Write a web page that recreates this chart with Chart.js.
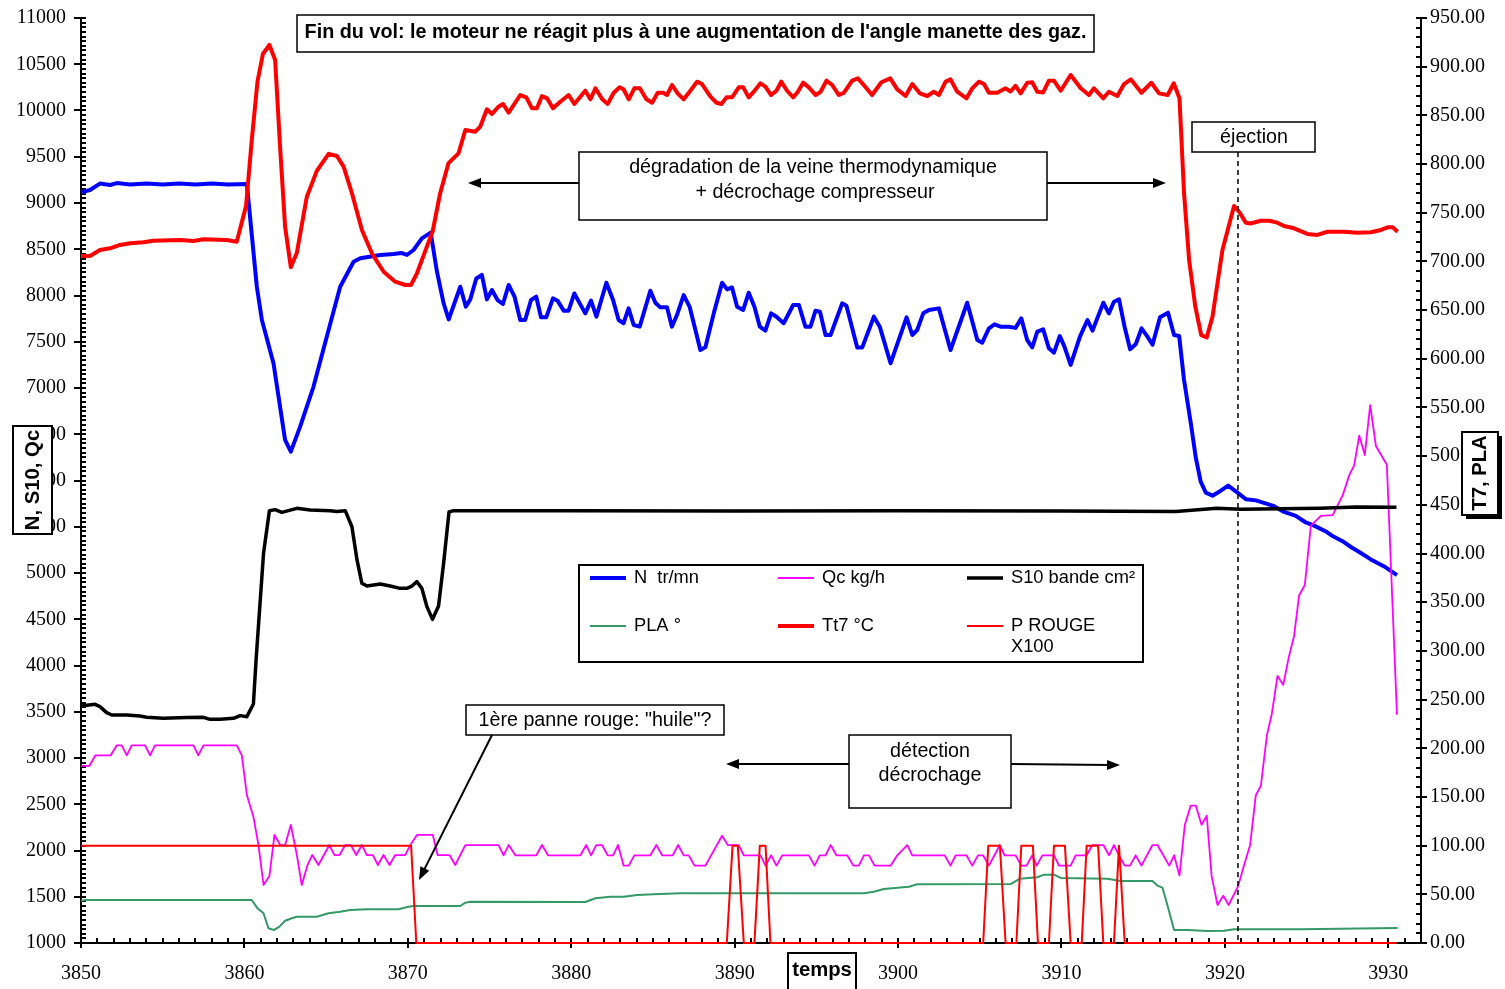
<!DOCTYPE html>
<html>
<head>
<meta charset="utf-8">
<script src="https://cdn.jsdelivr.net/npm/chart.js@4.4.1/dist/chart.umd.min.js"></script>
<style>
  html, body { margin: 0; padding: 0; background: #fff; }
  #wrap { width: 1505px; height: 989px; position: relative; }
</style>
</head>
<body>
<div id="wrap"><canvas id="myChart"></canvas></div>
<script>
// ---- data (time in s, N/S10/Qc on left axis, Tt7/PLA/P on right axis)
const nTime = [
  3850, 3850.55, 3851.16, 3851.78, 3852.19, 3853, 3854, 3855, 3856, 3857,
  3858, 3859, 3860.15, 3860.76, 3861.07, 3861.78, 3862.49, 3862.84, 3863.41, 3864.23,
  3865.04, 3865.86, 3866.68, 3867.09, 3868.31, 3869.13, 3869.6, 3869.94, 3870.35, 3870.86,
  3871.4, 3871.78, 3872.19, 3872.5, 3873.21, 3873.55, 3873.82, 3874.19, 3874.53, 3874.84,
  3875.15, 3875.49, 3875.82, 3876.17, 3876.53, 3876.88, 3877.18, 3877.54, 3877.86, 3878.15,
  3878.47, 3878.88, 3879.16, 3879.54, 3879.84, 3880.19, 3880.52, 3880.86, 3881.21, 3881.54,
  3882.15, 3882.56, 3882.9, 3883.2, 3883.51, 3883.82, 3884.19, 3884.84, 3885.15, 3885.45,
  3885.86, 3886.16, 3886.47, 3886.88, 3887.24, 3887.6, 3887.9, 3888.21, 3888.72, 3889.23,
  3889.54, 3889.84, 3890.15, 3890.52, 3890.86, 3891.21, 3891.54, 3891.88, 3892.23, 3892.56,
  3893, 3893.58, 3893.93, 3894.33, 3894.64, 3894.95, 3895.22, 3895.56, 3895.87, 3896.58,
  3896.84, 3897.5, 3897.81, 3898.52, 3898.88, 3899.54, 3900.52, 3900.87, 3901.17, 3901.54,
  3901.89, 3902.5, 3903.21, 3904.23, 3904.85, 3905.15, 3905.56, 3905.9, 3906.27, 3906.78,
  3907.19, 3907.54, 3907.9, 3908.21, 3908.52, 3908.88, 3909.23, 3909.54, 3909.9, 3910.18,
  3910.56, 3911.13, 3911.59, 3911.9, 3912.56, 3912.9, 3913.21, 3913.52, 3913.86, 3914.2,
  3914.55, 3914.9, 3915.26, 3915.57, 3916.03, 3916.52, 3916.89, 3917.2, 3917.5, 3917.91,
  3918.22, 3918.52, 3918.83, 3919.24, 3919.75, 3920.2, 3920.77, 3921.28, 3921.9, 3923.01,
  3923.62, 3924.34, 3924.95, 3925.46, 3926.18, 3926.59, 3927.2, 3927.71, 3928.22, 3928.93,
  3929.75, 3930.53
];
const nValue = [
  9115, 9141, 9210, 9195, 9215, 9200, 9212, 9200, 9212, 9200,
  9212, 9200, 9205, 8095, 7735, 7267, 6438, 6312, 6582, 7016,
  7554, 8095, 8365, 8402, 8438, 8449, 8460, 8438, 8492, 8617,
  8679, 8260, 7915, 7741, 8095, 7879, 7958, 8184, 8222, 7958,
  8059, 7951, 7908, 8114, 7987, 7735, 7735, 7951, 7987, 7764,
  7764, 7969, 7944, 7836, 7836, 8022, 7915, 7807, 7944, 7771,
  8138, 7951, 7735, 7700, 7861, 7681, 7663, 8051, 7922, 7872,
  7872, 7663, 7789, 8005, 7880, 7627, 7411, 7440, 7807, 8138,
  8066, 8087, 7879, 7843, 8030, 7879, 7663, 7620, 7807, 7771,
  7700, 7897, 7897, 7663, 7663, 7836, 7826, 7573, 7573, 7915,
  7890, 7439, 7439, 7771, 7663, 7267, 7764, 7573, 7627, 7807,
  7843, 7861, 7411, 7922, 7519, 7490, 7645, 7688, 7663, 7663,
  7650, 7753, 7519, 7440, 7609, 7634, 7429, 7382, 7562, 7447,
  7249, 7555, 7735, 7620, 7922, 7807, 7933, 7958, 7663, 7418,
  7476, 7645, 7555, 7468, 7764, 7814, 7573, 7562, 7086, 6625,
  6246, 5987, 5869, 5836, 5890, 5945, 5869, 5798, 5785, 5722,
  5660, 5617, 5546, 5512, 5449, 5399, 5344, 5281, 5227, 5147,
  5071, 4978
];

const qcTime = [
  3850, 3850.51, 3850.88, 3851.82, 3852.19, 3852.49, 3852.8, 3853.1, 3853.92, 3854.23,
  3854.53, 3856.88, 3857.18, 3857.49, 3859.53, 3859.84, 3860.15, 3860.55, 3860.86, 3861.17,
  3861.53, 3861.84, 3862.19, 3862.49, 3862.84, 3863.21, 3863.51, 3863.86, 3864.15, 3864.53,
  3865.2, 3865.51, 3865.82, 3866.17, 3866.51, 3866.84, 3867.19, 3867.49, 3867.86, 3868.17,
  3868.51, 3868.88, 3869.23, 3869.84, 3870.15, 3870.56, 3871.53, 3871.82, 3872.55, 3872.9,
  3873.52, 3875.55, 3875.86, 3876.17, 3876.58, 3877.86, 3878.21, 3878.58, 3880.56, 3880.92,
  3881.21, 3881.54, 3881.88, 3882.23, 3882.56, 3882.86, 3883.21, 3883.52, 3883.86, 3884.84,
  3885.21, 3885.56, 3886.21, 3886.54, 3886.88, 3887.19, 3887.54, 3888.21, 3889.23, 3889.58,
  3890.25, 3890.56, 3891.58, 3891.89, 3892.23, 3892.56, 3892.91, 3894.54, 3894.89, 3895.21,
  3895.56, 3895.87, 3896.23, 3896.89, 3897.26, 3897.6, 3897.91, 3898.22, 3898.56, 3899.54,
  3899.95, 3900.56, 3900.87, 3902.85, 3903.21, 3903.52, 3904.19, 3904.54, 3904.89, 3905.2,
  3905.56, 3906.23, 3906.52, 3907.19, 3907.54, 3907.86, 3908.21, 3908.48, 3908.83, 3909.54,
  3909.85, 3910.56, 3910.87, 3911.54, 3911.89, 3912.56, 3912.91, 3913.21, 3913.52, 3913.87,
  3914.19, 3914.54, 3914.89, 3915.57, 3915.87, 3916.59, 3916.89, 3917.22, 3917.55, 3917.91,
  3918.22, 3918.57, 3918.89, 3919.19, 3919.55, 3919.9, 3920.23, 3920.81, 3921.18, 3921.54,
  3921.89, 3922.2, 3922.57, 3922.87, 3923.22, 3923.57, 3923.93, 3924.23, 3924.54, 3924.89,
  3925.26, 3925.87, 3926.59, 3927.2, 3927.61, 3927.91, 3928.22, 3928.56, 3928.89, 3929.24,
  3929.91, 3930.53
];
const qcValue = [
  2914, 2914, 3029, 3029, 3137, 3137, 3029, 3137, 3137, 3029,
  3137, 3137, 3029, 3137, 3137, 3029, 2600, 2366, 2059, 1627,
  1724, 2168, 2059, 2059, 2276, 1951, 1627, 1843, 1951, 1843,
  2059, 1951, 1951, 2059, 2059, 1951, 2059, 1951, 1951, 1843,
  1951, 1843, 1951, 1951, 2059, 2168, 2168, 1951, 1951, 1843,
  2059, 2059, 1948, 2059, 1948, 1948, 2059, 1948, 1948, 2059,
  1948, 2059, 2059, 1948, 1948, 2059, 1836, 1836, 1948, 1948,
  2059, 1948, 1948, 2059, 1948, 1948, 1836, 1836, 2160, 2059,
  2059, 1948, 1948, 1836, 1948, 1836, 1948, 1948, 1836, 1948,
  1948, 2059, 1948, 1948, 1836, 1836, 1948, 1948, 1836, 1836,
  1948, 2059, 1948, 1948, 1836, 1948, 1948, 1836, 1948, 1948,
  1836, 2059, 1948, 1948, 1836, 1836, 1948, 1836, 1948, 1948,
  1836, 1836, 1948, 1948, 2059, 2059, 1948, 2059, 1948, 1836,
  1836, 1948, 1836, 2059, 2059, 1836, 1948, 1730, 2279, 2485,
  2485, 2279, 2376, 1720, 1411, 1510, 1411, 1615, 1846, 2057,
  2595, 2700, 3245, 3476, 3888, 3790, 4106, 4316, 4757, 4870,
  5512, 5617, 5626, 5836, 6058, 6163, 6486, 6276, 6814, 6373,
  6171, 3467
];

const s10Time = [
  3850, 3850.86, 3851.16, 3851.57, 3851.88, 3852.8, 3853.61, 3854.02, 3855.04, 3856.47,
  3857.49, 3857.9, 3858.51, 3859.33, 3859.74, 3860.15, 3860.55, 3860.72, 3861.17, 3861.53,
  3861.88, 3862.29, 3863.21, 3864.02, 3865.25, 3865.66, 3866.17, 3866.58, 3866.89, 3867.19,
  3867.5, 3868.31, 3868.92, 3869.53, 3869.94, 3870.25, 3870.56, 3870.86, 3871.17, 3871.51,
  3871.88, 3872.19, 3872.52, 3872.8, 3880, 3890, 3900, 3910, 3917, 3919.5,
  3921, 3925.8, 3928, 3930.5
];
const s10Value = [
  3562, 3580, 3555, 3490, 3465, 3465, 3454, 3440, 3429, 3437,
  3440, 3418, 3420, 3429, 3458, 3447, 3584, 4078, 5213, 5674,
  5685, 5656, 5699, 5681, 5674, 5665, 5674, 5500, 5141, 4889,
  4859, 4881, 4859, 4834, 4834, 4859, 4906, 4834, 4636, 4499,
  4643, 5105, 5660, 5674, 5674, 5670, 5674, 5670, 5665, 5700,
  5690, 5700, 5713, 5710
];

const plaTime = [
  3850, 3850.3, 3860.45, 3860.8, 3861.17, 3861.47, 3861.82, 3862.14, 3862.49, 3862.9,
  3863.21, 3864.43, 3865.15, 3865.86, 3866.47, 3867.5, 3869.43, 3870.04, 3870.35, 3873.21,
  3873.52, 3873.82, 3880.86, 3881.48, 3882.4, 3883.21, 3884.03, 3885.05, 3886.68, 3897.91,
  3898.52, 3899.13, 3900.15, 3900.66, 3901.17, 3906.89, 3907.46, 3908.52, 3908.93, 3909.54,
  3909.95, 3912.81, 3913.62, 3915.57, 3915.87, 3916.18, 3916.48, 3916.89, 3917.71, 3918.93,
  3919.95, 3920.56, 3924.64, 3930.57
];
const plaValue = [
  43.4, 44.2, 44.2, 35.6, 30.5, 15.1, 13.4, 16.8, 22.9, 25.4,
  27, 27, 30.5, 32.1, 33.9, 34.6, 34.6, 37.3, 38, 38,
  41.4, 42.4, 42.1, 45.9, 47.6, 47.6, 49.3, 50, 51, 51,
  52.7, 55.5, 57, 57.8, 60.3, 60.5, 66, 67.5, 70.2, 70.2,
  66.8, 66, 63.7, 63.7, 58.9, 56.8, 39, 13.4, 13.4, 12.3,
  12.5, 14.1, 14.1, 15.4
];

const tt7Time = [
  3850, 3850.55, 3851.16, 3851.78, 3852.39, 3853, 3853.82, 3854.43, 3856.06, 3856.88,
  3857.49, 3858.92, 3859.53, 3860.1, 3860.45, 3860.8, 3861.13, 3861.53, 3861.88, 3862.19,
  3862.49, 3862.84, 3863.21, 3863.82, 3864.43, 3865.15, 3865.66, 3866.07, 3866.58, 3867.19,
  3867.8, 3868.52, 3869.23, 3869.84, 3870.19, 3870.56, 3870.96, 3871.52, 3871.98, 3872.49,
  3873.1, 3873.52, 3874.13, 3874.43, 3874.84, 3875.15, 3875.55, 3875.82, 3876.17, 3876.88,
  3877.25, 3877.6, 3877.9, 3878.21, 3878.52, 3878.88, 3879.33, 3879.84, 3880.19, 3880.86,
  3881.17, 3881.48, 3881.9, 3882.23, 3882.6, 3882.96, 3883.2, 3883.52, 3883.86, 3884.2,
  3884.6, 3884.95, 3885.29, 3885.62, 3885.86, 3886.17, 3886.51, 3886.88, 3887.29, 3887.7,
  3888, 3888.52, 3888.89, 3889.19, 3889.5, 3889.84, 3890.25, 3890.52, 3890.86, 3891.17,
  3891.58, 3891.88, 3892.23, 3892.56, 3892.85, 3893.21, 3893.58, 3893.86, 3894.19, 3894.54,
  3894.95, 3895.25, 3895.62, 3895.97, 3896.37, 3896.68, 3897.19, 3897.54, 3897.9, 3898.41,
  3898.98, 3899.52, 3899.95, 3900.46, 3900.87, 3901.33, 3901.79, 3902.19, 3902.5, 3902.91,
  3903.21, 3903.62, 3904.19, 3904.54, 3904.95, 3905.26, 3905.56, 3906.07, 3906.58, 3906.88,
  3907.19, 3907.5, 3907.91, 3908.21, 3908.52, 3908.88, 3909.23, 3909.54, 3909.95, 3910.56,
  3911.18, 3911.68, 3911.99, 3912.56, 3912.9, 3913.42, 3913.83, 3914.24, 3914.89, 3915.5,
  3915.97, 3916.5, 3916.87, 3917.22, 3917.5, 3917.81, 3918.19, 3918.55, 3918.89, 3919.24,
  3919.85, 3920.56, 3920.87, 3921.28, 3921.56, 3922.2, 3922.71, 3923.21, 3923.62, 3924.23,
  3925.05, 3925.66, 3926.28, 3927.3, 3928.12, 3928.93, 3929.55, 3929.96, 3930.27, 3930.57
];
const tt7Value = [
  705.5, 705.5, 711.7, 713.5, 716.9, 718.6, 719.6, 721.3, 722, 720.9,
  722.7, 722, 720.3, 757, 824.7, 884.6, 913, 922.3, 906.8, 815.6,
  735.7, 694, 709, 766.5, 793, 810.5, 808.3, 797.3, 770, 732.3,
  708.3, 689.4, 679.2, 675.8, 675.8, 687.8, 706, 731, 770, 801,
  811, 835, 833.2, 838.4, 856.2, 851.4, 858.9, 861.7, 852.8, 870.9,
  868.5, 857.2, 857.2, 869.9, 867.5, 857.2, 864, 870.9, 861.7, 875.3,
  866.5, 877.8, 866.5, 861.7, 873.2, 878.8, 876.8, 866.5, 877.8, 877.8,
  866.5, 863, 873.2, 873.2, 870.9, 881.2, 872.6, 866.5, 875.3, 884.6,
  882.2, 869.2, 863, 861.7, 868.5, 868.5, 878.8, 878.8, 868.5, 874.3,
  882.9, 879.5, 870.9, 875.3, 884.6, 875.3, 868.5, 874, 883.6, 878.8,
  870.9, 874, 885.6, 881.2, 870.9, 873, 885.6, 888, 881.2, 870.9,
  884, 888, 876.7, 869.9, 882.2, 872.6, 869.9, 874.3, 870.9, 884.6,
  887, 874.3, 867.5, 877.8, 884.6, 882.2, 873.2, 873.2, 877.8, 874.5,
  880.2, 872.6, 883.6, 884, 874.3, 873.5, 885.6, 885.6, 875.3, 891.4,
  877.8, 870.9, 877.8, 867.5, 874.3, 869.9, 882.2, 887, 873.2, 883.5,
  872.6, 870.9, 883, 867.5, 770, 701.4, 653.5, 624.4, 622, 643.2,
  711.7, 756.9, 751, 739.8, 739, 741.8, 741.8, 739.8, 736.4, 734,
  728.2, 727.2, 730.5, 730.5, 729.5, 730, 732.3, 735, 735, 730.5
];

const pTime = [
  3850, 3870.2, 3870.52, 3889.52, 3889.87, 3890.19, 3890.56, 3891.21, 3891.54, 3891.89,
  3892.19, 3905.21, 3905.52, 3906.23, 3906.58, 3907.24, 3907.54, 3908.25, 3908.56, 3909.23,
  3909.54, 3910.21, 3910.56, 3911.24, 3911.54, 3912.24, 3912.56, 3913.21, 3913.52, 3913.87,
  3930.5
];
const pValue = [
  100, 100, 0, 0, 100, 100, 0, 0, 100, 100,
  0, 0, 100, 100, 0, 0, 100, 100, 0, 0,
  100, 100, 0, 0, 100, 100, 0, 0, 100, 0,
  0
];

const ejectionTime = 3920.8;

const SANS = "'Liberation Sans', Arial, sans-serif";
const SERIF = "'Liberation Serif', 'Times New Roman', serif";
const NOTE = '19.7px ' + SANS;
const BOLD = 'bold 20.3px ' + SANS;

function pts(t, v) {
  return t.map((x, i) => ({ x: x, y: v[i] }));
}

function series(label, t, v, color, width, axis, order) {
  return {
    label: label,
    data: pts(t, v),
    borderColor: color,
    backgroundColor: color,
    borderWidth: width,
    pointRadius: 0,
    tension: 0,
    borderJoinStyle: 'round',
    yAxisID: axis,
    order: order,
    clip: false
  };
}

// ---- drawing helpers for the boxes and arrows
function rectBox(ctx, x, y, w, h, lw, shadow) {
  if (shadow) {
    ctx.fillStyle = '#000';
    ctx.fillRect(x + 4, y + 4, w, h);
  }
  ctx.fillStyle = '#fff';
  ctx.fillRect(x, y, w, h);
  ctx.lineWidth = lw;
  ctx.strokeStyle = '#000';
  ctx.strokeRect(x, y, w, h);
}

function arrow(ctx, x1, y1, x2, y2) {
  const a = Math.atan2(y2 - y1, x2 - x1);
  const L = 13, W = 5;
  ctx.strokeStyle = '#000';
  ctx.lineWidth = 2;
  ctx.beginPath();
  ctx.moveTo(x1, y1);
  ctx.lineTo(x2 - Math.cos(a) * L * 0.7, y2 - Math.sin(a) * L * 0.7);
  ctx.stroke();
  ctx.beginPath();
  ctx.moveTo(x2, y2);
  ctx.lineTo(x2 - L * Math.cos(a) + W * Math.sin(a), y2 - L * Math.sin(a) - W * Math.cos(a));
  ctx.lineTo(x2 - L * Math.cos(a) - W * Math.sin(a), y2 - L * Math.sin(a) + W * Math.cos(a));
  ctx.closePath();
  ctx.fillStyle = '#000';
  ctx.fill();
}

function text(ctx, s, x, y, font, align) {
  ctx.font = font;
  ctx.fillStyle = '#000';
  ctx.textAlign = align || 'center';
  ctx.textBaseline = 'middle';
  ctx.fillText(s, x, y);
}

const decor = {
  id: 'decor',
  beforeDatasetsDraw(chart) {
    const ctx = chart.ctx;
    const x = chart.scales.x, yl = chart.scales.yL, yr = chart.scales.yR;
    const a = chart.chartArea;
    ctx.save();
    ctx.strokeStyle = '#000';
    ctx.lineWidth = 2;
    ctx.beginPath();
    // bottom axis: majors every 10 cross the axis, minors every 1 inside
    for (let t = 3850; t <= 3932; t++) {
      const px = Math.round(x.getPixelForValue(t));
      const major = t % 10 === 0;
      ctx.moveTo(px, a.bottom - 5);
      ctx.lineTo(px, major ? a.bottom + 5 : a.bottom);
    }
    // left axis: majors every 500, minors every 50
    for (let v = 1000; v <= 11000; v += 50) {
      const py = Math.round(yl.getPixelForValue(v));
      const major = v % 500 === 0;
      ctx.moveTo(major ? a.left - 7 : a.left, py);
      ctx.lineTo(a.left + 5, py);
    }
    // right axis: majors every 50, minors every 10
    for (let v = 0; v <= 950; v += 10) {
      const py = Math.round(yr.getPixelForValue(v));
      const major = v % 50 === 0;
      ctx.moveTo(a.right - 5, py);
      ctx.lineTo(major ? a.right + 6 : a.right, py);
    }
    ctx.stroke();
    ctx.restore();
  },
  afterDraw(chart) {
    const ctx = chart.ctx;
    const a = chart.chartArea;
    ctx.save();

    // ejection marker
    const ex = chart.scales.x.getPixelForValue(ejectionTime);
    ctx.setLineDash([5, 4]);
    ctx.lineWidth = 1.5;
    ctx.strokeStyle = '#000';
    ctx.beginPath();
    ctx.moveTo(ex, 152);
    ctx.lineTo(ex, a.bottom);
    ctx.stroke();
    ctx.setLineDash([]);

    // title
    rectBox(ctx, 297, 15, 797, 37, 1.5);
    text(ctx, "Fin du vol: le moteur ne réagit plus à une augmentation de l'angle manette des gaz.",
      695.5, 33, 'bold 19.8px ' + SANS);

    // degradation note
    rectBox(ctx, 579, 152, 468, 68, 1.5);
    text(ctx, 'dégradation de la veine thermodynamique', 813, 168, NOTE);
    text(ctx, '+ décrochage compresseur', 815, 193, NOTE);
    arrow(ctx, 579, 183, 468, 183);
    arrow(ctx, 1047, 183, 1166, 183);

    // ejection label
    rectBox(ctx, 1192, 122, 123, 30, 1.5);
    text(ctx, 'éjection', 1254, 138, NOTE);

    // first failure
    rectBox(ctx, 466, 705, 258, 30, 1.5);
    text(ctx, '1ère panne rouge: "huile"?', 595, 721, NOTE);
    arrow(ctx, 492, 735, 419, 880);

    // stall detection
    rectBox(ctx, 849, 735, 162, 73, 1.5);
    text(ctx, 'détection', 930, 752, NOTE);
    text(ctx, 'décrochage', 930, 776, NOTE);
    arrow(ctx, 849, 764, 726, 764);
    arrow(ctx, 1011, 764, 1120, 765);

    // legend
    rectBox(ctx, 579, 565, 564, 97, 2);
    const cols = [590, 778, 967], rows = [578, 626];
    chart.data.datasets.forEach((ds, i) => {
      const cx = cols[i % 3], cy = rows[Math.floor(i / 3)];
      ctx.strokeStyle = ds.borderColor;
      ctx.lineWidth = ds.borderWidth;
      ctx.beginPath();
      ctx.moveTo(cx, cy);
      ctx.lineTo(cx + 36, cy);
      ctx.stroke();
      ds.label.split('\n').forEach((line, k) => {
        text(ctx, line, cx + 44, cy + k * 21, '18.3px ' + SANS, 'left');
      });
    });

    // axis titles
    rectBox(ctx, 13, 426, 39, 108, 2);
    ctx.save();
    ctx.translate(33, 480);
    ctx.rotate(-Math.PI / 2);
    text(ctx, 'N, S10, Qc', 0, 0, BOLD);
    ctx.restore();

    rectBox(ctx, 1462, 432, 36, 83, 2, true);
    ctx.save();
    ctx.translate(1480, 473);
    ctx.rotate(-Math.PI / 2);
    text(ctx, 'T7, PLA', 0, 0, BOLD);
    ctx.restore();

    rectBox(ctx, 788, 953, 68, 45, 2);
    text(ctx, 'temps', 822, 970, BOLD);

    ctx.restore();
  }
};

Chart.defaults.font.family = SERIF;
Chart.defaults.font.size = 20;
Chart.defaults.color = '#000';

const config = {
  type: 'line',
  data: {
    datasets: [
      series('N  tr/mn', nTime, nValue, '#0000FF', 4, 'yL', 6),
      series('Qc kg/h', qcTime, qcValue, '#FF00FF', 1.8, 'yL', 5),
      series('S10 bande cm²', s10Time, s10Value, '#000000', 3.5, 'yL', 4),
      series('PLA °', plaTime, plaValue, '#339966', 2, 'yR', 3),
      series('Tt7 °C', tt7Time, tt7Value, '#FF0000', 4, 'yR', 2),
      series('P ROUGE\nX100', pTime, pValue, '#FF0000', 2, 'yR', 1)
    ]
  },
  options: {
    responsive: true,
    maintainAspectRatio: false,
    animation: false,
    events: [],
    layout: { padding: { top: 18, left: 0, right: 0, bottom: 0 } },
    plugins: {
      legend: { display: false },
      tooltip: { enabled: false }
    },
    scales: {
      x: {
        type: 'linear',
        min: 3850,
        max: 3932,
        grid: { display: false, drawTicks: false },
        border: { display: true, color: '#000', width: 2 },
        ticks: {
          stepSize: 10,
          includeBounds: false,
          autoSkip: false,
          maxRotation: 0,
          padding: 19,
          callback: (v) => (v % 10 === 0 ? String(v) : '')
        },
        afterFit: (s) => { s.height = 46; s.paddingLeft = 0; s.paddingRight = 0; }
      },
      yL: {
        type: 'linear',
        position: 'left',
        min: 1000,
        max: 11000,
        grid: { display: false, drawTicks: false },
        border: { display: true, color: '#000', width: 2 },
        ticks: {
          stepSize: 500,
          padding: 15,
          callback: (v) => String(v)
        },
        afterFit: (s) => { s.width = 81; s.paddingTop = 0; s.paddingBottom = 0; }
      },
      yR: {
        type: 'linear',
        position: 'right',
        min: 0,
        max: 950,
        grid: { display: false, drawTicks: false },
        border: { display: true, color: '#000', width: 2 },
        ticks: {
          stepSize: 50,
          padding: 9,
          callback: (v) => v.toFixed(2)
        },
        afterFit: (s) => { s.width = 84; s.paddingTop = 0; s.paddingBottom = 0; }
      }
    }
  },
  plugins: [decor]
};

const myChart = new Chart(document.getElementById('myChart'), config);
</script>
</body>
</html>
